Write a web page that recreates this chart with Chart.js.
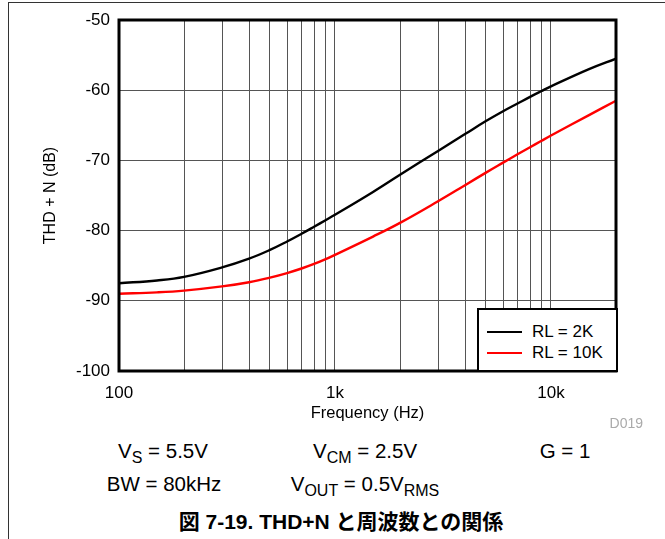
<!DOCTYPE html>
<html>
<head>
<meta charset="utf-8">
<script src="https://cdn.jsdelivr.net/npm/chart.js@4.4.1/dist/chart.umd.min.js"></script>
<style>
  body { margin: 0; background: #fff; }
  #wrap { position: relative; width: 665px; height: 539px; overflow: hidden;
          font-family: "Liberation Sans", Arial, sans-serif; color: #000; }
  #frame { position: absolute; left: 8px; top: 2px; width: 700px; height: 600px;
           border-left: 1px solid #333; border-top: 1px solid #333; }
  canvas { position: absolute; left: 0; top: 0; }
  #legend { position: absolute; left: 477px; top: 308px; width: 141px; height: 64px;
            box-sizing: border-box; border: 2px solid #000; background: #fff; }
  .item { position: absolute; left: 8px; height: 20px; font-size: 17px; line-height: 20px; white-space: nowrap; }
  .item i { position: absolute; left: 0; top: 9px; width: 35px; height: 2px; }
  .item span { position: absolute; left: 45px; top: 0; }
  .note { position: absolute; width: 220px; text-align: center; font-size: 20.5px; line-height: 20px; white-space: nowrap; }
  .note sub { font-size: 16px; vertical-align: baseline; position: relative; top: 5px; }
  #code { position: absolute; left: 563px; width: 80px; top: 415px; text-align: right;
          font-size: 14px; line-height: 16px; color: #aaa; }
  #caption { position: absolute; left: 141px; width: 400px; top: 510px; text-align: center;
             font-family: "Liberation Sans", "Noto Sans CJK JP", sans-serif;
             font-weight: bold; font-size: 21px; line-height: 24px; white-space: nowrap; }
</style>
</head>
<body>
<div id="wrap">
  <div id="frame"></div>
  <canvas id="thdChart" width="665" height="425"></canvas>
  <div id="legend"></div>
  <div id="code">D019</div>
  <div class="note" style="left:53px; top:441px;">V<sub>S</sub> = 5.5V</div>
  <div class="note" style="left:255px; top:441px;">V<sub>CM</sub> = 2.5V</div>
  <div class="note" style="left:455px; top:441px;">G = 1</div>
  <div class="note" style="left:54px; top:474px;">BW = 80kHz</div>
  <div class="note" style="left:255px; top:474px;">V<sub>OUT</sub> = 0.5V<sub>RMS</sub></div>
  <div id="caption">図 7-19. THD+N と周波数との関係</div>
</div>
<script>
// frequency (Hz) and THD+N (dB)
const freqs = [100, 150, 200, 300, 400, 500, 600, 700, 800, 900, 1000, 1500,
               2000, 3000, 4000, 5000, 6000, 7000, 8000, 9000, 10000, 15000, 20000];
const rl2k = [-87.5, -87.1, -86.6, -85.25, -84.0, -82.75, -81.55, -80.45, -79.45, -78.55, -77.75, -74.5,
              -72.05, -68.65, -66.25, -64.4, -63.0, -61.9, -60.95, -60.15, -59.45, -57.0, -55.5];
const rl10k = [-89.0, -88.8, -88.55, -87.95, -87.35, -86.7, -86.05, -85.4, -84.75, -84.1, -83.45, -80.85,
               -78.9, -75.82, -73.53, -71.74, -70.32, -69.13, -68.12, -67.24, -66.46, -63.55, -61.5];
const seriesLabels = ["RL = 2K", "RL = 10K"];
const seriesColors = ["#000000", "#ff0000"];

const xLabeled = [100, 1000, 10000];
const xTickLabels = ["100", "1k", "10k"];
const yTicks = [-100, -90, -80, -70, -60, -50];

// grid lines at every 1..9 x decade
const gridFreqs = [];
for (let d = 100; d <= 10000; d *= 10) {
  for (let m = 1; m <= 9; m++) {
    if (d * m <= 20000) gridFreqs.push(d * m);
  }
}
gridFreqs.push(20000);

const frameBox = {
  id: "frameBox",
  afterDraw(chart) {
    const { ctx, chartArea: a } = chart;
    ctx.save();
    ctx.strokeStyle = "#000";
    ctx.lineWidth = 3;
    ctx.strokeRect(a.left, a.top, a.right - a.left, a.bottom - a.top);
    ctx.restore();
  },
};

Chart.defaults.font.family = '"Liberation Sans", Arial, sans-serif';
Chart.defaults.color = "#000";

const seriesData = [rl2k, rl10k];

new Chart(document.getElementById("thdChart").getContext("2d"), {
  type: "line",
  data: {
    datasets: seriesData.map((vals, i) => ({
      label: seriesLabels[i],
      data: freqs.map((f, k) => ({ x: f, y: vals[k] })),
      borderColor: seriesColors[i],
      borderWidth: 2.4,
      pointRadius: 0,
      tension: 0.4,
      fill: false,
    })),
  },
  options: {
    responsive: false,
    animation: false,
    devicePixelRatio: 1,
    layout: { padding: { left: 0, right: 49, top: 20, bottom: 0 } },
    plugins: {
      legend: { display: false },
      tooltip: { enabled: false },
    },
    scales: {
      x: {
        type: "logarithmic",
        min: 100,
        max: 20000,
        afterBuildTicks: (scale) => {
          scale.ticks = gridFreqs.map((v) => ({ value: v }));
        },
        afterFit: (scale) => { scale.height = 54; },
        border: { display: false },
        grid: { color: "#555", lineWidth: 1, drawTicks: false },
        ticks: {
          autoSkip: false,
          maxRotation: 0,
          padding: 12,
          font: { size: 17 },
          callback: (v) => {
            const idx = xLabeled.indexOf(v);
            return idx >= 0 ? xTickLabels[idx] : "";
          },
        },
        title: { display: true, text: "Frequency (Hz)", font: { size: 16.5 }, padding: { top: 0, bottom: 2 } },
      },
      y: {
        min: -100,
        max: -50,
        afterBuildTicks: (scale) => {
          scale.ticks = yTicks.map((v) => ({ value: v }));
        },
        afterFit: (scale) => { scale.width = 119; },
        border: { display: false },
        grid: { color: "#555", lineWidth: 1, drawTicks: false },
        ticks: { padding: 9, font: { size: 17 } },
        title: { display: true, text: "THD + N (dB)", font: { size: 16 }, padding: { top: 41, bottom: 0 } },
      },
    },
  },
  plugins: [frameBox],
});

// legend box inside the plot, built from the series
const legendEl = document.getElementById("legend");
seriesLabels.forEach((lab, i) => {
  const row = document.createElement("div");
  row.className = "item";
  row.style.top = (12 + i * 21) + "px";
  row.innerHTML = '<i style="background:' + seriesColors[i] + '"></i><span>' + lab + "</span>";
  legendEl.appendChild(row);
});
</script>
</body>
</html>
